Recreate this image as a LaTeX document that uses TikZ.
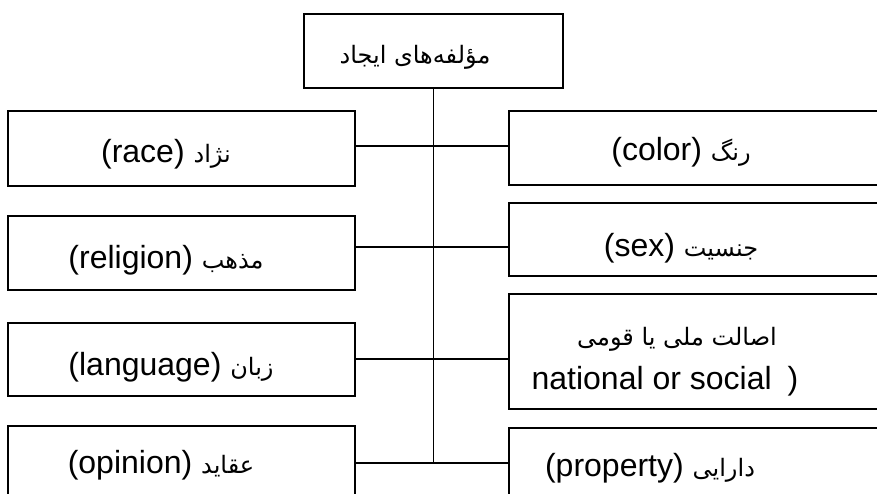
\documentclass[tikz,border=0pt]{standalone}
\usepackage{fontspec}
\setmainfont{Liberation Sans}
\newfontfamily\fa[Script=Arabic]{DejaVu Sans}
\TeXXeTstate=1
\usetikzlibrary{positioning}

\newcommand{\fatext}[1]{{\fa\fontsize{24}{44}\selectfont\beginR #1\endR}}

\begin{document}
\begin{tikzpicture}[x=1pt, y=-1pt,
            box/.style={rectangle, draw=black, line width=1.6pt, inner sep=0pt,
                        minimum height=74pt},
            leftbox/.style={box, minimum width=347pt},
            rightbox/.style={box, minimum width=391pt},
            txt/.style={anchor=base, inner sep=0pt, align=center,
                        font=\fontsize{32}{44}\selectfont},
            link/.style={line width=1.8pt}
        ]
        \clip (0,0) rectangle (877,493);

        % boxes
        \node[box, minimum width=259pt] (top) at (433.5,51) {};
        \node[leftbox, minimum height=75pt] (race) at (181.5,148.5) {};
        \node[leftbox] (religion) at (181.5,253) {};
        \node[leftbox, minimum height=73pt] (language) at (181.5,359.5) {};
        \node[leftbox] (opinion) at (181.5,463) {};
        \node[rightbox] (color) at (704.5,148) {};
        \node[rightbox, minimum height=73pt] (sex) at (704.5,239.5) {};
        \node[rightbox, minimum height=115pt] (national) at (704.5,351.5) {};
        \node[rightbox] (property) at (704.5,465) {};

        % texts
        \node[txt] (toptxt) at (415,63) {\fatext{مؤلفه‌های ایجاد}};
        \node[txt] (racetxt) at (166,162) {(race) \fatext{نژاد}};
        \node[txt] (religiontxt) at (166,268) {(religion) \fatext{مذهب}};
        \node[txt] (languagetxt) at (171,375) {(language) \fatext{زبان}};
        \node[txt] (opiniontxt) at (161,473) {(opinion) \fatext{عقاید}};
        \node[txt] (colortxt) at (681,160) {(color) \fatext{رنگ}};
        \node[txt] (sextxt) at (681,256) {(sex) \fatext{جنسیت}};
        \node[txt, anchor=center] (nationaltxt) at (665,362)
            {\hspace*{24pt}\fatext{اصالت ملی یا قومی}\\national or social\enspace)};
        \node[txt] (propertytxt) at (650,476) {(property) \fatext{دارایی}};

        % trunk and branches
        \coordinate (j1) at (top.south |- 0,146);
        \coordinate (j2) at (top.south |- 0,247);
        \coordinate (j3) at (top.south |- 0,359);
        \coordinate (j4) at (top.south |- 0,463);
        \draw[link] (top.south) -- (j4);
        \draw[link] (race.east |- j1) -- (color.west |- j1);
        \draw[link] (religion.east |- j2) -- (sex.west |- j2);
        \draw[link] (language.east |- j3) -- (national.west |- j3);
        \draw[link] (opinion.east |- j4) -- (property.west |- j4);
\end{tikzpicture}
\end{document}
